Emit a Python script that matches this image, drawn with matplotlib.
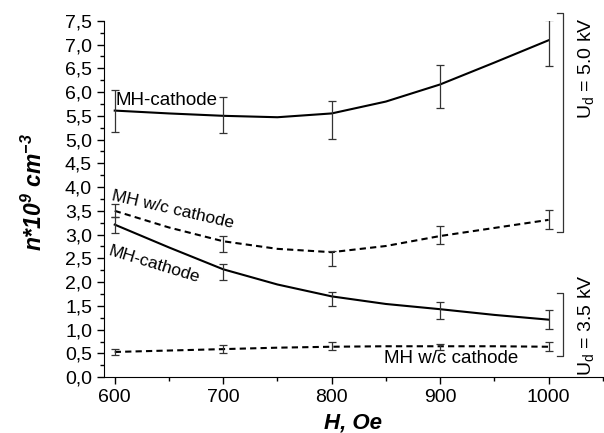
import matplotlib.pyplot as plt
from matplotlib.ticker import MultipleLocator, FuncFormatter

plt.rcParams['font.family'] = ['Liberation Sans', 'DejaVu Sans']
plt.rcParams['mathtext.fontset'] = 'custom'
plt.rcParams['mathtext.rm'] = 'Liberation Sans'
plt.rcParams['mathtext.bf'] = 'Liberation Sans:italic:bold'

# Datos medidos
H = [600, 700, 800, 900, 1000]
n_mh_50 = [5.60, 5.51, 5.41, 6.11, 7.03]
err_mh_50 = [0.45, 0.38, 0.40, 0.45, 0.48]
n_wc_50 = [3.50, 2.81, 2.50, 3.00, 3.31]
err_wc_50 = [0.14, 0.17, 0.16, 0.19, 0.20]
n_mh_35 = [3.21, 2.21, 1.64, 1.41, 1.21]
err_mh_35 = [0.17, 0.17, 0.15, 0.18, 0.20]
n_wc_35 = [0.53, 0.59, 0.66, 0.64, 0.64]
err_wc_35 = [0.07, 0.09, 0.09, 0.06, 0.09]

# Curvas de ajuste
H_fit = [600, 650, 700, 750, 800, 850, 900, 950, 1000]
fit_mh_50 = [5.61, 5.55, 5.50, 5.47, 5.55, 5.80, 6.16, 6.62, 7.09]
fit_wc_50 = [3.50, 3.15, 2.86, 2.70, 2.63, 2.76, 2.97, 3.14, 3.31]
fit_mh_35 = [3.21, 2.73, 2.27, 1.95, 1.70, 1.54, 1.43, 1.31, 1.21]
fit_wc_35 = [0.53, 0.56, 0.59, 0.62, 0.64, 0.65, 0.65, 0.65, 0.64]

# Corchetes de tension
bracket_50 = [3.06, 7.67]
bracket_35 = [0.44, 1.78]

fig = plt.figure(figsize=(6.04, 4.33), dpi=100)
ax = fig.add_axes([0.172, 0.129, 0.826, 0.823])

ax.plot(H_fit, fit_mh_50, color='black', lw=1.5)
ax.plot(H_fit, fit_wc_50, color='black', lw=1.5, ls=(0, (3, 2)))
ax.plot(H_fit, fit_mh_35, color='black', lw=1.5)
ax.plot(H_fit, fit_wc_35, color='black', lw=1.5, ls=(0, (3, 2)))

for n, e in [(n_mh_50, err_mh_50), (n_wc_50, err_wc_50),
             (n_mh_35, err_mh_35), (n_wc_35, err_wc_35)]:
    ax.errorbar(H, n, yerr=e, fmt='none', ecolor='#333333',
                elinewidth=0.9, capsize=3, capthick=0.9)

# Corchetes y etiquetas U_d
for b in [bracket_50, bracket_35]:
    ax.plot([1008, 1013, 1013, 1008], [b[0], b[0], b[1], b[1]],
            color='#333333', lw=0.9, clip_on=False)
ax.text(1035, 6.5, 'U$_\\mathregular{d}$ = 5.0 kV',
        rotation=90, ha='center', va='center', fontsize=14, clip_on=False)
ax.text(1035, 1.1, 'U$_\\mathregular{d}$ = 3.5 kV',
        rotation=90, ha='center', va='center', fontsize=14, clip_on=False)

# Etiquetas de curvas
ax.text(601, 5.73, 'MH-cathode', fontsize=13.5, ha='left', va='baseline')
ax.text(597, 3.73, 'MH w/c cathode', fontsize=12.5, rotation=-13,
        rotation_mode='anchor', ha='left', va='baseline')
ax.text(593, 2.57, 'MH-cathode', fontsize=12.5, rotation=-17,
        rotation_mode='anchor', ha='left', va='baseline')
ax.text(848, 0.29, 'MH w/c cathode', fontsize=13.5, ha='left', va='baseline')

ax.set_xlim(590, 1050)
ax.set_ylim(0, 7.5)
ax.xaxis.set_major_locator(MultipleLocator(100))
ax.xaxis.set_minor_locator(MultipleLocator(50))
ax.yaxis.set_major_locator(MultipleLocator(0.5))
ax.yaxis.set_minor_locator(MultipleLocator(0.25))
ax.yaxis.set_major_formatter(FuncFormatter(lambda v, p: f'{v:.1f}'.replace('.', ',')))
ax.tick_params(which='major', direction='out', length=5, width=1, labelsize=14)
ax.tick_params(which='minor', direction='out', length=3, width=1)
ax.spines['top'].set_visible(False)
ax.spines['right'].set_visible(False)

ax.set_xlabel('H, Oe', fontsize=16, fontweight='bold', style='italic', labelpad=5)
ax.set_ylabel('n*10$^\\mathbf{9}$ cm$^\\mathbf{-3}$', fontsize=16.5,
              fontweight='bold', style='italic')
ax.yaxis.set_label_coords(-0.115, 0.52)

plt.savefig('out.png', dpi=100)
